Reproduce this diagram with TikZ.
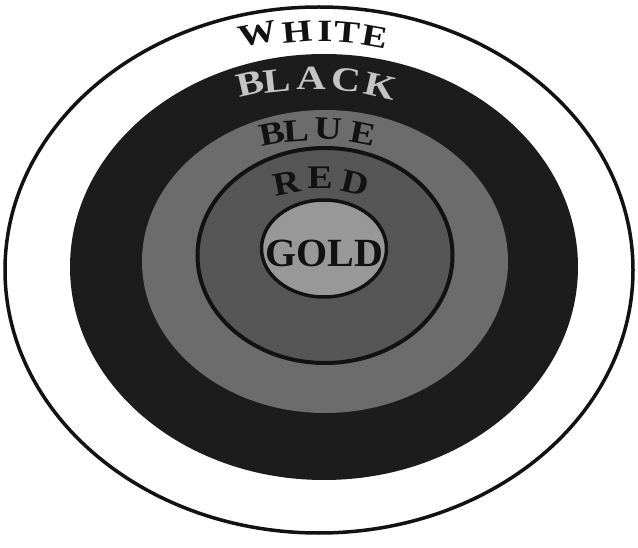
\documentclass[tikz,border=0pt]{standalone}
\usepackage{fontspec}
\setmainfont{Liberation Serif}
\usepackage{tikz}
\usetikzlibrary{calc}
\definecolor{ringblack}{RGB}{28,28,28}
\definecolor{ringblue}{RGB}{108,108,108}
\definecolor{ringred}{RGB}{86,86,86}
\definecolor{ringgold}{RGB}{152,152,152}
\definecolor{ink}{RGB}{18,18,18}
\definecolor{inklight}{RGB}{196,196,196}

\begin{document}
\begin{tikzpicture}[x=1pt,y=1pt,
          lettr/.style={inner sep=0pt,font=\fontsize{#1}{#1}\bfseries\selectfont},
          rim/.style={draw=ink,line width=4pt}]
        \useasboundingbox (0,0) rectangle (638,547);
        % rings, outside in
        \filldraw[fill=white,draw=ink,line width=3.5pt] (319,277) ellipse [x radius=314,y radius=263];
        \fill[ringblack] (324,280) ellipse [x radius=254,y radius=213];
        \fill[ringblue] (325,285.5) ellipse [x radius=183,y radius=151.5];
        \filldraw[fill=ringred,rim] (325,291.5) ellipse [x radius=127.5,y radius=107.5];
        \filldraw[fill=ringgold,rim,line width=3.5pt] (324,298.5) ellipse [x radius=62.5,y radius=48.5];
        % curved labels, one letter at a time
        \foreach \ch/\x/\y/\r [count=\i] in {W/258/513/11,H/297/515/5,I/325/516/0,T/347/514/-5,E/375/510/-10}
          \node[lettr=31,text=ink,rotate=\r,xscale=1.25] (white\i) at (\x,\y) {\ch};
        \foreach \ch/\x/\y/\r [count=\i] in {B/250/463/13,L/277/466/6,A/311/469/0,C/346/467/-6,K/380/461/-13}
          \node[lettr=34,text=inklight,rotate=\r,xscale=1.2] (black\i) at (\x,\y) {\ch};
        \foreach \ch/\x/\y/\r [count=\i] in {B/272/413/11,L/296/416/4,U/328/418/-3,E/363/413/-11}
          \node[lettr=32,text=ink,rotate=\r,xscale=1.2] (blue\i) at (\x,\y) {\ch};
        \foreach \ch/\x/\y/\r [count=\i] in {R/287/364/11,E/320/369/0,D/355/364/-13}
          \node[lettr=33,text=ink,rotate=\r,xscale=1.15] (red\i) at (\x,\y) {\ch};
        \node[lettr=40,text=ink] (gold) at (324,294) {GOLD};
      \end{tikzpicture}
\end{document}
